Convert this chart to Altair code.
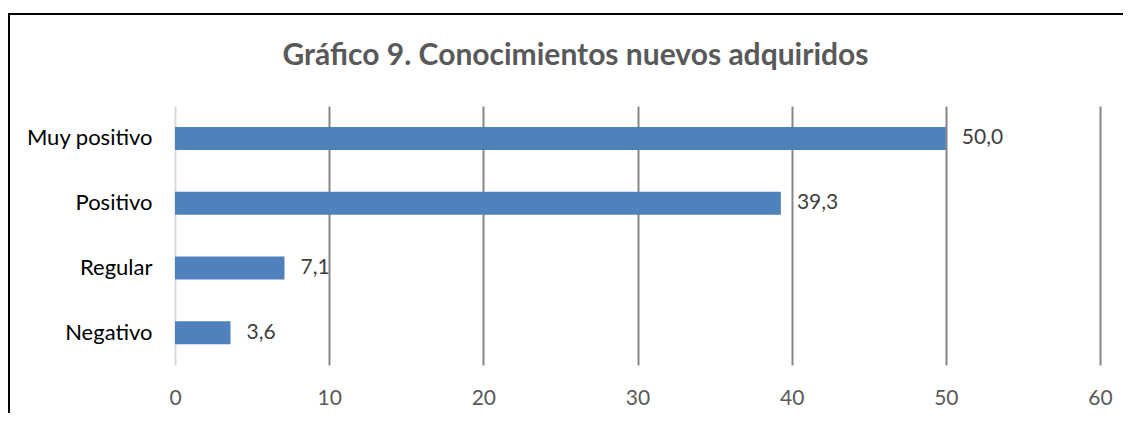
import altair as alt
import pandas as pd

categories = ["Muy positivo", "Positivo", "Regular", "Negativo"]
values = [50.0, 39.3, 7.1, 3.6]
x_ticks = [0, 10, 20, 30, 40, 50, 60]
title_text = "Gráfico 9. Conocimientos nuevos adquiridos"

df = pd.DataFrame({
    "cat": categories,
    "val": values,
    "label": [f"{v:.1f}".replace(".", ",") for v in values],
})

FONT = "Lato"
W, H = 925, 259

base = alt.Chart(df).encode(
    y=alt.Y("cat:N", sort=categories, title=None,
            scale=alt.Scale(paddingInner=0, paddingOuter=0),
            axis=alt.Axis(labelFont=FONT, labelFontSize=22, labelColor="#000000",
                          labelFontWeight="normal",
                          labelPadding=23, ticks=False, domain=False, grid=False)),
)

bars = base.mark_bar(color="#4F81BD", height=23).encode(
    x=alt.X("val:Q", title=None,
            scale=alt.Scale(domain=[0, 60], nice=False),
            axis=alt.Axis(values=x_ticks, labelFont=FONT, labelFontSize=21,
                          labelColor="#595959", labelPadding=22, ticks=False,
                          labelFlush=False,
                          domain=False, grid=True,
                          gridColor=alt.condition("datum.value === 0",
                                                  alt.value("#D9D9D9"),
                                                  alt.value("#868686")),
                          gridWidth=2)),
)

texts = base.mark_text(align="left", baseline="middle", dx=16, font=FONT,
                       fontSize=21, color="#404040").encode(
    x="val:Q", text="label:N")

border_left = alt.Chart(df).mark_rule(color="#000000", strokeWidth=2).encode(
    x=alt.value(-166), y=alt.value(-92), y2=alt.value(320))
border_top = alt.Chart(df).mark_rule(color="#000000", strokeWidth=2).encode(
    x=alt.value(-167), x2=alt.value(960), y=alt.value(-92))

chart = alt.layer(bars, texts, border_left, border_top).properties(
    width=W, height=H,
    title=alt.TitleParams(title_text, font=FONT, fontSize=30, fontWeight="bold",
                          color="#595959", anchor="middle", dx=-62, offset=-58),
    autosize=alt.AutoSizeParams(type="none"),
    padding={"left": 167, "top": 98, "right": 23, "bottom": 48},
).configure(background="#FFFFFF", view=alt.ViewConfig(stroke=None))

chart.save("out.html", embed_options={"renderer": "svg", "actions": False})
